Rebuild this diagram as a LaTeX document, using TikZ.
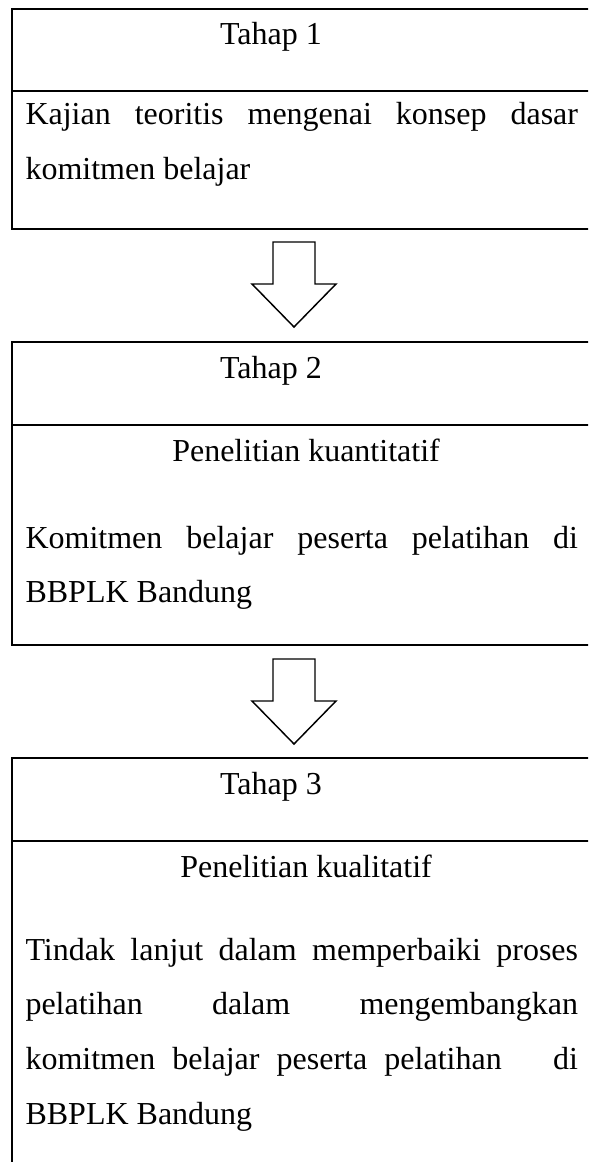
\documentclass[tikz,border=0pt]{standalone}
\usepackage{fontspec}
\setmainfont{Liberation Serif}
\newcommand{\celltext}{\fontsize{12}{20.6}\selectfont\tolerance=10000\hbadness=10000}
\begin{document}
\begin{tikzpicture}[x=0.375pt,y=-0.375pt,
    frame/.style={line width=0.75pt},
    blockarrow/.style={line width=0.55pt,line join=miter},
    head/.style={inner sep=0pt,anchor=base,font=\celltext},
    body/.style={inner sep=0pt,anchor=base west,text width=207.2pt,align=justify,font=\celltext}]
  \useasboundingbox (0,0) rectangle (588,1162);
  \clip (0,0) rectangle (588,1162);
  % tables
  \draw[frame] (12,9) rectangle (620,229);
  \draw[frame] (12,91) -- (620,91);
  \draw[frame] (12,342) rectangle (620,645);
  \draw[frame] (12,425) -- (620,425);
  \draw[frame] (12,758) rectangle (620,1200);
  \draw[frame] (12,841) -- (620,841);
  % stage 1
  \node[head] (t1) at (271,45) {Tahap 1};
  \node[body] (d1) at (25,125) {Kajian teoritis mengenai konsep dasar\linebreak komitmen belajar};
  % stage 2
  \node[head] (t2) at (271,378) {Tahap 2};
  \node[head] (s2) at (306,461) {Penelitian kuantitatif};
  \node[body] (d2) at (25,548) {Komitmen belajar peserta pelatihan di\linebreak BBPLK Bandung};
  % stage 3
  \node[head] (t3) at (271,794) {Tahap 3};
  \node[head] (s3) at (306,877) {Penelitian kualitatif};
  \node[body] (d3) at (25,960) {Tindak lanjut dalam memperbaiki proses\linebreak pelatihan dalam mengembangkan\linebreak komitmen belajar peserta pelatihan \ \ di\linebreak BBPLK Bandung};
  % block arrows
  \foreach \y in {242,659}
    \draw[blockarrow] (273,\y) -- (315,\y) -- (315,\y+42) -- (336,\y+42)
      -- (294,\y+85) -- (252,\y+42) -- (273,\y+42) -- cycle;
\end{tikzpicture}
\end{document}
